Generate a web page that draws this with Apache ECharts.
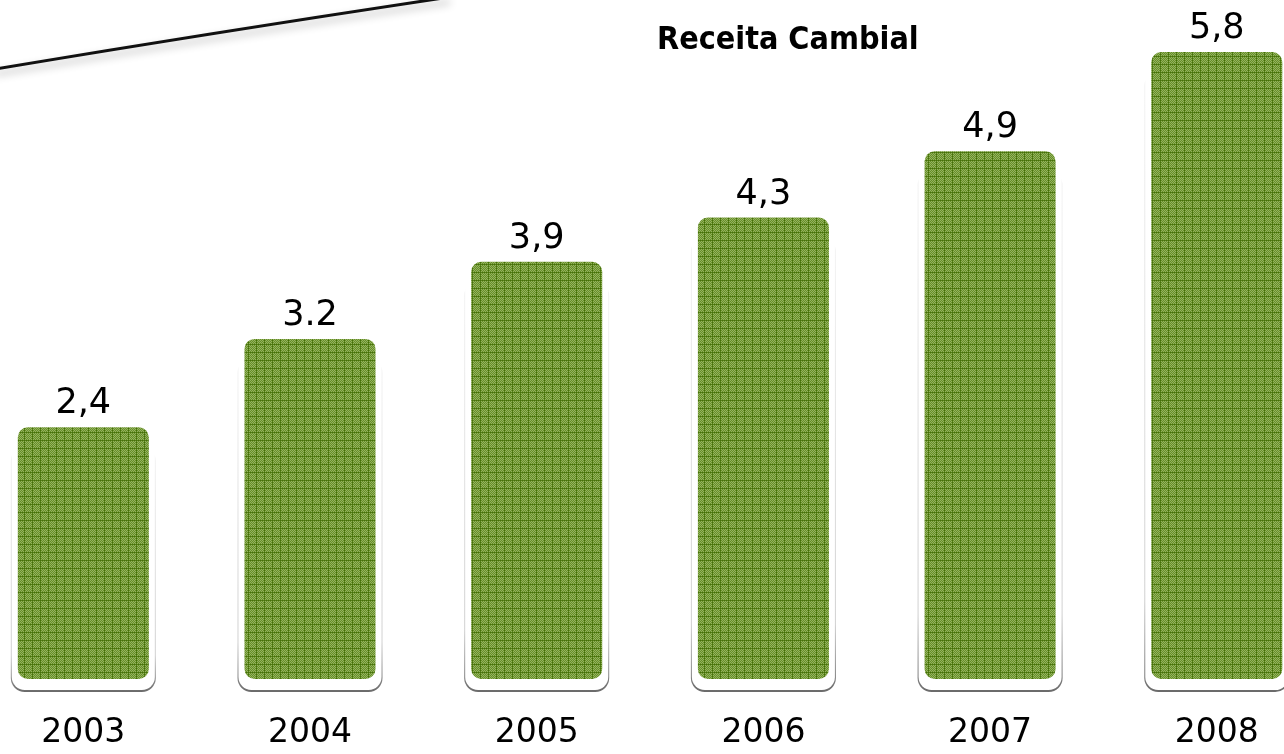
<!DOCTYPE html>
<html>
<head>
<meta charset="utf-8">
<script src="https://cdn.jsdelivr.net/npm/echarts@6/dist/echarts.min.js"></script>
<style>
  html, body { margin: 0; padding: 0; background: #fff; }
  #main { width: 1284px; height: 754px; }
</style>
</head>
<body>
<div id="main"></div>
<script>
// dados
var anos = ['2003', '2004', '2005', '2006', '2007', '2008'];
var receita = [2.4, 3.2, 3.9, 4.3, 4.9, 5.8];
var rotulos = ['2,4', '3.2', '3,9', '4,3', '4,9', '5,8'];
var posicoes = [0, 1, 2, 3, 4, 5];

// textura quadriculada verde das barras
function makePattern() {
    var n = 8;
    var c = document.createElement('canvas');
    c.width = n; c.height = n;
    var ctx = c.getContext('2d');
    for (var y = 0; y < n; y++) {
        for (var x = 0; x < n; x++) {
            var col;
            if (x === 0 || y === 0) {
                col = ((x + y) % 2 === 0) ? '#45700a' : '#557f16';
            } else {
                col = ((x + y) % 2 === 0) ? '#93b261' : '#678f26';
            }
            ctx.fillStyle = col;
            ctx.fillRect(x, y, 1, 1);
        }
    }
    return c;
}
var textura = makePattern();

var dom = document.getElementById('main');
var myChart = echarts.init(dom);

function renderBar(params, api) {
    var i = api.value(0);
    var v = api.value(1);
    var top = api.coord([i, v]);
    var base = api.coord([i, 0]);
    var w = api.size([1, 0])[0] * 0.578;
    var x = top[0] - w / 2;
    var yTop = top[1];
    var yBot = base[1] - 13;
    return {
        type: 'group',
        children: [
            {
                // sombra cinza
                type: 'rect',
                shape: { x: x - 7, y: yTop + 20, width: w + 14, height: yBot - yTop - 20 + 13, r: 14 },
                style: {
                    fill: new echarts.graphic.LinearGradient(0, 0, 0, 1, [
                        { offset: 0, color: '#f4f4f4' },
                        { offset: 0.85, color: '#d0d0d0' },
                        { offset: 1, color: '#6a6a6a' }
                    ])
                }
            },
            {
                // moldura branca
                type: 'rect',
                shape: { x: x - 6, y: yTop, width: w + 12, height: yBot - yTop + 11, r: 13 },
                style: { fill: '#fff' }
            },
            {
                type: 'rect',
                shape: { x: x, y: yTop, width: w, height: yBot - yTop, r: 10 },
                style: { fill: { image: textura, repeat: 'repeat' } }
            },
            {
                type: 'text',
                style: {
                    text: rotulos[i],
                    x: top[0],
                    y: yTop - 23,
                    align: 'center',
                    verticalAlign: 'middle',
                    font: '35px "DejaVu Sans", sans-serif',
                    fill: '#000'
                }
            }
        ]
    };
}

var dados = receita.map(function (v, i) { return [posicoes[i], v]; });

option = {
    backgroundColor: '#fff',
    animation: false,
    title: {
        text: 'Receita Cambial',
        left: 652,
        top: 20,
        textStyle: {
            color: '#000',
            fontSize: 32,
            fontWeight: 'bold',
            fontFamily: '"DejaVu Sans Condensed", "DejaVu Sans", sans-serif'
        }
    },
    grid: {
        left: 0,
        right: 0,
        top: 30,
        bottom: 62
    },
    xAxis: {
        type: 'value',
        min: -0.3675,
        max: 5.2965,
        axisLine: { show: false },
        axisTick: { show: false },
        splitLine: { show: false },
        axisLabel: {
            customValues: posicoes,
            formatter: function (val) { return anos[Math.round(val)]; },
            color: '#000',
            fontSize: 33,
            fontFamily: '"DejaVu Sans", sans-serif',
            margin: 25
        }
    },
    yAxis: {
        type: 'value',
        min: 0,
        max: 6,
        show: false
    },
    graphic: [
        {
            type: 'bezierCurve',
            shape: { x1: -5, y1: 69, x2: 450, y2: -3, cpx1: 230, cpy1: 30 },
            style: {
                stroke: '#111',
                lineWidth: 3,
                fill: null,
                shadowColor: 'rgba(0,0,0,0.3)',
                shadowBlur: 8,
                shadowOffsetY: 5
            },
            z: 10
        }
    ],
    series: [
        {
            type: 'custom',
            renderItem: renderBar,
            clip: false,
            data: dados
        }
    ]
};
if (option && typeof option === "object") {
    myChart.setOption(option, true);
}
</script>
</body>
</html>
